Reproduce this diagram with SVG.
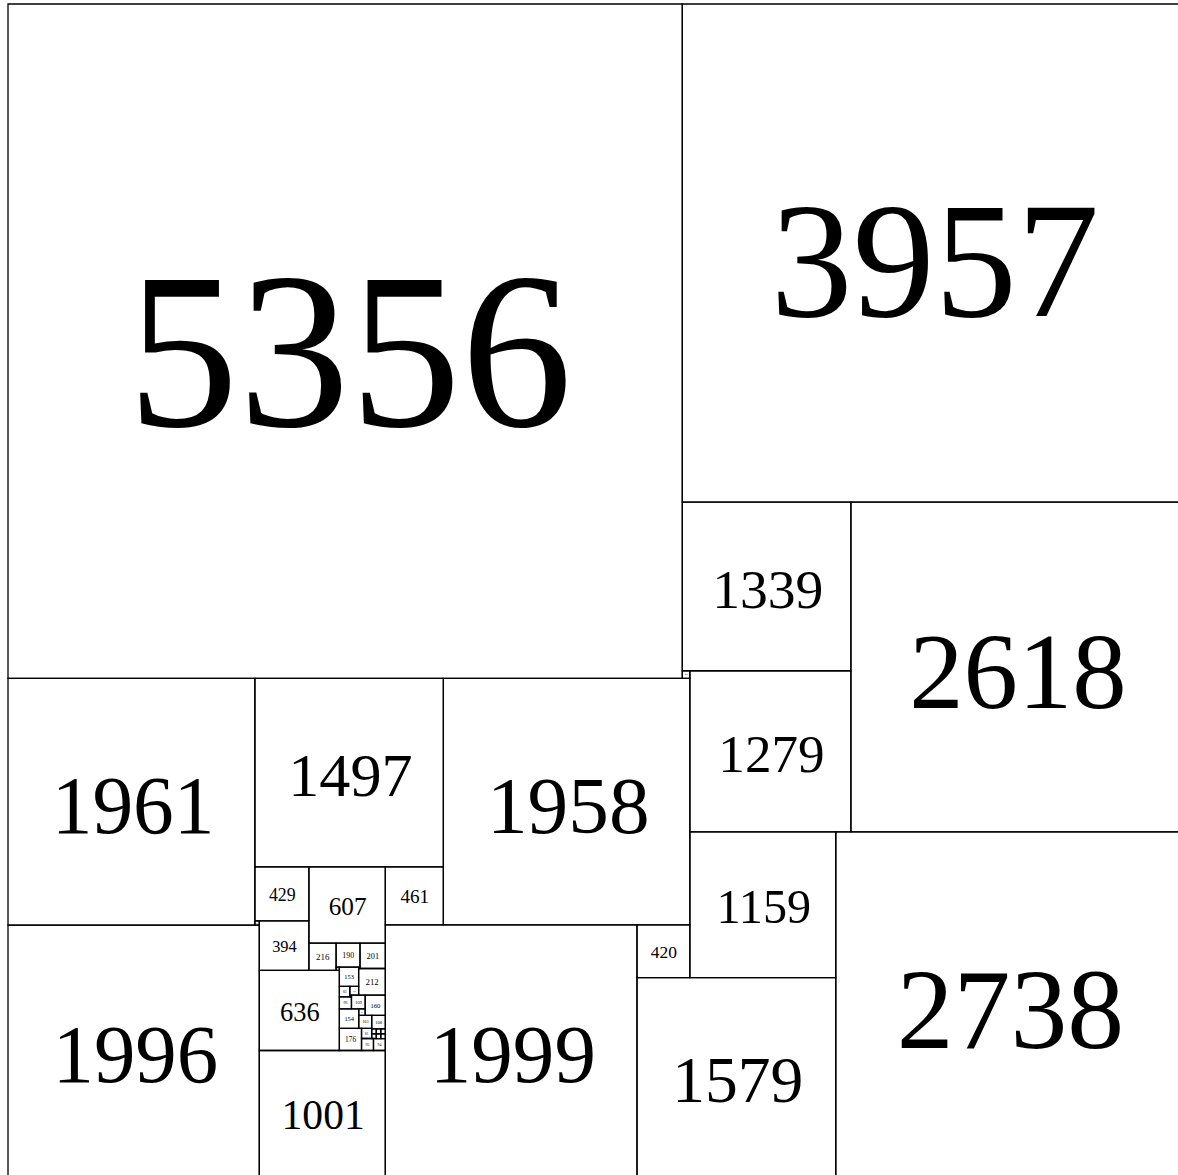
<svg xmlns="http://www.w3.org/2000/svg" width="1178" height="1175" viewBox="0 0 1178 1175">
<style>
rect.sq{fill:none;stroke:#000;stroke-width:1.3;vector-effect:non-scaling-stroke}
text{font-family:"Liberation Serif","Times New Roman",serif;text-anchor:middle;fill:#000}
</style>
<rect x="0" y="0" width="1178" height="1175" fill="#fff"/>
<g transform="translate(8,4) scale(0.1259)">
<g id="sq5356"><rect class="sq" x="0" y="0" width="5356" height="5356"/><text x="2714.4" y="3351.8" font-size="1767.5">5356</text></g>
<g id="sq3957"><rect class="sq" x="5356" y="0" width="3957" height="3957"/><text x="7361.4" y="2476.3" font-size="1305.8">3957</text></g>
<g id="sq1339"><rect class="sq" x="5356" y="3957" width="1339" height="1339"/><text x="6034.6" y="4794.9" font-size="441.9">1339</text></g>
<g id="sq2618"><rect class="sq" x="6695" y="3957" width="2618" height="2618"/><text x="8021.8" y="5595.3" font-size="863.9">2618</text></g>
<g id="sq60"><rect class="sq" x="5356" y="5296" width="60" height="60"/><text x="5386.4" y="5333.5" font-size="19.8">60</text></g>
<g id="sq1279"><rect class="sq" x="5416" y="5296" width="1279" height="1279"/><text x="6064.2" y="6096.4" font-size="422.1">1279</text></g>
<g id="sq1961"><rect class="sq" x="0" y="5356" width="1961" height="1961"/><text x="993.8" y="6583.2" font-size="647.1">1961</text></g>
<g id="sq1497"><rect class="sq" x="1961" y="5356" width="1497" height="1497"/><text x="2719.7" y="6292.8" font-size="494">1497</text></g>
<g id="sq1958"><rect class="sq" x="3458" y="5356" width="1958" height="1958"/><text x="4450.3" y="6581.3" font-size="646.1">1958</text></g>
<g id="sq1159"><rect class="sq" x="5416" y="6575" width="1159" height="1159"/><text x="6003.4" y="7300.3" font-size="382.5">1159</text></g>
<g id="sq2738"><rect class="sq" x="6575" y="6575" width="2738" height="2738"/><text x="7962.6" y="8288.4" font-size="903.5">2738</text></g>
<g id="sq429"><rect class="sq" x="1961" y="6853" width="429" height="429"/><text x="2178.4" y="7121.5" font-size="141.6">429</text></g>
<g id="sq607"><rect class="sq" x="2390" y="6853" width="607" height="607"/><text x="2697.6" y="7232.9" font-size="200.3">607</text></g>
<g id="sq461"><rect class="sq" x="2997" y="6853" width="461" height="461"/><text x="3230.6" y="7141.5" font-size="152.1">461</text></g>
<g id="sq35"><rect class="sq" x="1961" y="7282" width="35" height="35"/><text x="1978.7" y="7303.9" font-size="11.5">35</text></g>
<g id="sq394"><rect class="sq" x="1996" y="7282" width="394" height="394"/><text x="2195.7" y="7528.6" font-size="130">394</text></g>
<g id="sq1996"><rect class="sq" x="0" y="7317" width="1996" height="1996"/><text x="1011.6" y="8566.1" font-size="658.7">1996</text></g>
<g id="sq1999"><rect class="sq" x="2997" y="7314" width="1999" height="1999"/><text x="4010.1" y="8565" font-size="659.7">1999</text></g>
<g id="sq420"><rect class="sq" x="4996" y="7314" width="420" height="420"/><text x="5208.9" y="7576.8" font-size="138.6">420</text></g>
<g id="sq1579"><rect class="sq" x="4996" y="7734" width="1579" height="1579"/><text x="5796.2" y="8722.1" font-size="521.1">1579</text></g>
<g id="sq216"><rect class="sq" x="2390" y="7460" width="216" height="216"/><text x="2499.5" y="7595.2" font-size="71.3">216</text></g>
<g id="sq190"><rect class="sq" x="2606" y="7460" width="190" height="190"/><text x="2702.3" y="7578.9" font-size="62.7">190</text></g>
<g id="sq201"><rect class="sq" x="2796" y="7460" width="201" height="201"/><text x="2897.9" y="7585.8" font-size="66.3">201</text></g>
<g id="sq26"><rect class="sq" x="2606" y="7650" width="26" height="26"/><text x="2619.2" y="7666.3" font-size="8.6">26</text></g>
<g id="sq153"><rect class="sq" x="2632" y="7650" width="153" height="153"/><text x="2709.5" y="7745.7" font-size="50.5">153</text></g>
<g id="sq11"><rect class="sq" x="2785" y="7650" width="11" height="11"/></g>
<g id="sq212"><rect class="sq" x="2785" y="7661" width="212" height="212"/><text x="2892.4" y="7793.7" font-size="70">212</text></g>
<g id="sq636"><rect class="sq" x="1996" y="7676" width="636" height="636"/><text x="2318.3" y="8074" font-size="209.8">636</text></g>
<g id="sq83"><rect class="sq" x="2632" y="7803" width="83" height="83"/><text x="2674.1" y="7854.9" font-size="27.4">83</text></g>
<g id="sq70"><rect class="sq" x="2715" y="7803" width="70" height="70"/><text x="2750.5" y="7846.8" font-size="23.1">70</text></g>
<g id="sq13"><rect class="sq" x="2715" y="7873" width="13" height="13"/></g>
<g id="sq109"><rect class="sq" x="2728" y="7873" width="109" height="109"/><text x="2783.2" y="7941.2" font-size="36">109</text></g>
<g id="sq160"><rect class="sq" x="2837" y="7873" width="160" height="160"/><text x="2918.1" y="7973.1" font-size="52.8">160</text></g>
<g id="sq96"><rect class="sq" x="2632" y="7886" width="96" height="96"/><text x="2680.7" y="7946.1" font-size="31.6">96</text></g>
<g id="sq154"><rect class="sq" x="2632" y="7982" width="154" height="154"/><text x="2710" y="8078.4" font-size="50.9">154</text></g>
<g id="sq51"><rect class="sq" x="2786" y="7982" width="51" height="51"/><text x="2811.8" y="8013.9" font-size="16.8">51</text></g>
<g id="sq103"><rect class="sq" x="2786" y="8033" width="103" height="103"/><text x="2838.2" y="8097.5" font-size="34">103</text></g>
<g id="sq108"><rect class="sq" x="2889" y="8033" width="108" height="108"/><text x="2943.7" y="8100.6" font-size="35.6">108</text></g>
<g id="sq176"><rect class="sq" x="2632" y="8136" width="176" height="176"/><text x="2721.2" y="8246.1" font-size="58.1">176</text></g>
<g id="sq81"><rect class="sq" x="2808" y="8136" width="81" height="81"/><text x="2849.1" y="8186.7" font-size="26.7">81</text></g>
<g id="sq95"><rect class="sq" x="2808" y="8217" width="95" height="95"/><text x="2856.1" y="8276.5" font-size="31.4">95</text></g>
<g id="sq94"><rect class="sq" x="2903" y="8218" width="94" height="94"/><text x="2950.6" y="8276.8" font-size="31">94</text></g>
<g id="grid">
<rect class="sq" x="2889" y="8141" width="36" height="38"/>
<rect class="sq" x="2925" y="8141" width="36" height="38"/>
<rect class="sq" x="2961" y="8141" width="36" height="38"/>
<rect class="sq" x="2889" y="8179" width="36" height="38"/>
<rect class="sq" x="2925" y="8179" width="36" height="39"/>
<rect class="sq" x="2961" y="8179" width="36" height="39"/>
</g>
<g id="sq1001"><rect class="sq" x="1996" y="8312" width="1001" height="1001"/><text x="2503.3" y="8938.4" font-size="330.3">1001</text></g>
</g>
<g id="connectors"/>
</svg>
